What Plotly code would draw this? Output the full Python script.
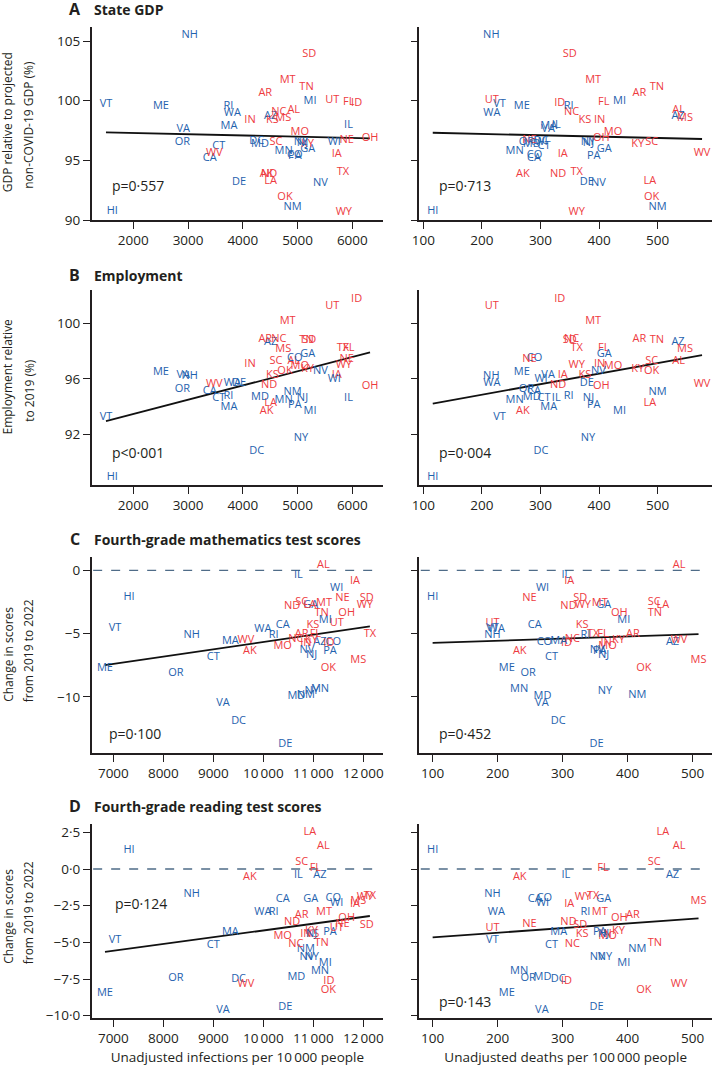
import numpy as np
import plotly.graph_objects as go

# ---------------- data ----------------
states = ["AL","AK","AZ","AR","CA","CO","CT","DE","DC","FL","GA","HI","ID","IL","IN","IA","KS",
          "KY","LA","ME","MD","MA","MI","MN","MS","MO","MT","NE","NV","NH","NJ","NM","NY","NC",
          "ND","OH","OK","OR","PA","RI","SC","SD","TN","TX","UT","VT","VA","WA","WV","WI","WY"]
party = ["R","R","D","R","D","D","D","D","D","R","D","D","R","D","R","R","R",
         "R","R","D","D","D","D","D","R","R","R","R","D","D","D","D","D","R",
         "R","R","R","D","D","D","R","R","R","R","R","D","D","D","R","D","R"]

# x for panels A and B
infections_ab = [4930,4435,4508,4410,3395,4950,3562,3930,4253,5935,5187,1616,6079,5930,4131,5714,4540,
                 5180,4508,2505,4314,3747,5227,4746,4740,5040,4819,5897,5418,3030,5090,4910,5060,4660,
                 4480,6323,4770,2895,4950,3738,4606,5215,5163,5830,5635,1501,2913,3808,3479,5671,5845]
deaths_ab = [536,270,535,469,289,290,306,379,301,408,409,116,333,327,401,338,376,
             466,487,268,285,314,435,256,547,424,390,281,399,216,382,500,381,353,
             330,404,490,276,391,348,490,350,499,362,217,230,313,217,576,301,362]
gdp = [99.19,93.85,98.72,100.59,95.14,95.40,96.20,93.15,96.60,99.85,95.93,90.73,99.75,97.96,98.32,95.50,98.32,
       96.38,93.25,99.53,96.34,97.85,99.92,95.78,98.50,97.33,101.70,96.68,93.10,105.50,96.42,91.10,96.55,99.03,
       93.83,96.82,91.87,96.54,95.30,99.55,96.50,103.85,101.09,94.02,100.00,99.72,97.57,98.91,95.56,96.54,90.61]
employment = [97.25,93.64,98.63,98.89,95.10,97.52,94.60,95.69,90.75,98.20,97.81,88.90,101.78,94.60,97.10,96.24,96.24,
              96.67,94.24,96.48,94.67,93.93,93.69,94.43,98.14,96.89,100.19,97.45,96.57,96.17,94.60,95.01,91.71,98.89,
              95.52,95.47,96.53,95.25,94.12,94.72,97.25,98.77,98.77,98.22,101.23,93.20,96.24,95.66,95.61,96.00,97.01]

# x for panels C and D
infections_cd = [11200,9730,11133,10767,10387,11400,9000,10440,9505,11040,10950,7313,11310,10700,10850,11833,10990,
                 10960,10930,6833,10660,9340,11240,11133,11900,10387,11213,11580,10870,8567,10967,10850,10967,10650,
                 10577,11667,11300,8250,11333,10207,10767,12067,11167,12130,11470,7033,9193,9990,9650,11467,12030]
deaths_cd = [479,234,469,408,257,272,283,352,293,362,363,100,306,305,367,310,330,
             386,454,214,269,294,394,233,509,369,357,249,353,192,363,415,365,315,
             309,387,425,247,357,335,441,327,442,347,192,192,268,198,479,269,331]
math_change = [0.37,-6.41,-5.65,-5.05,-4.37,-5.70,-6.87,-13.72,-11.95,-5.01,-2.75,-2.11,-5.72,-0.37,-5.78,-0.87,-4.34,
               -5.50,-2.75,-7.73,-9.97,-5.62,-3.93,-9.38,-7.12,-6.02,-2.56,-2.19,-6.28,-5.15,-6.72,-9.84,-9.58,-5.43,
               -2.85,-3.38,-7.73,-8.13,-6.41,-5.12,-2.53,-2.23,-3.35,-5.01,-4.20,-4.60,-10.52,-4.62,-5.52,-1.40,-2.72]
reading_change = [1.57,-0.59,-0.41,-3.12,-2.09,-2.00,-5.23,-9.43,-7.52,0.02,-2.06,1.25,-7.64,-0.41,-4.45,-2.40,-4.47,
                  -4.23,2.48,-8.45,-7.40,-4.33,-6.45,-6.95,-2.18,-4.61,-2.95,-3.80,-6.00,-1.73,-4.45,-5.47,-6.05,-5.16,
                  -3.66,-3.38,-8.30,-7.45,-4.32,-2.93,0.43,-3.86,-5.09,-1.89,-4.03,-4.89,-9.61,-2.96,-7.86,-2.30,-1.92]

panel_letters = ["A", "B", "C", "D"]
panel_titles = ["State GDP", "Employment", "Fourth-grade mathematics test scores",
                "Fourth-grade reading test scores"]
y_titles = [["GDP relative to projected", "non-COVID-19 GDP (%)"],
            ["Employment relative", "to 2019 (%)"],
            ["Change in scores", "from 2019 to 2022"],
            ["Change in scores", "from 2019 to 2022"]]
p_left = ["p=0·557", "p<0·001", "p=0·100", "p=0·124"]
p_right = ["p=0·713", "p=0·004", "p=0·452", "p=0·143"]
x_titles = ["Unadjusted infections per 10\u2009000 people", "Unadjusted deaths per 100\u2009000 people"]

xticks_ab_left = [2000, 3000, 4000, 5000, 6000]
xticklabels_ab_left = ["2000", "3000", "4000", "5000", "6000"]
xticks_cd_left = [7000, 8000, 9000, 10000, 11000, 12000]
xticklabels_cd_left = ["7000", "8000", "9000", "10\u2009000", "11\u2009000", "12\u2009000"]
xticks_right = [100, 200, 300, 400, 500]
xticklabels_right = ["100", "200", "300", "400", "500"]
yticks = [[90, 95, 100, 105], [92, 96, 100], [-10, -5, 0], [2.5, 0, -2.5, -5, -7.5, -10]]
yticklabels = [["90", "95", "100", "105"], ["92", "96", "100"], ["−10", "−5", "0"],
               ["2·5", "0·0", "−2·5", "−5·0", "−7·5", "−10·0"]]

# ---------------- layout geometry ----------------
W, H = 712, 1066
FONT = "Open Sans"
INK = "#231f20"
RED = "#EE3B3F"
BLUE = "#1F62AE"
XL = (91.7, 383.0)
XR = (419.3, 712.0)
ROWS = [(26.7, 220.0), (290.0, 485.0), (557.0, 752.7), (824.0, 1018.3)]
TITLE_Y = [9.0, 274.5, 538.5, 806.0]
YT_CENTERS = [[122.5, 125.0], [376.7, 390.0], [654.0, 650.5], [916.0, 912.5]]
x_ranges = [[(1240, 6560), (93, 593)], [(1240, 6560), (93, 593)],
            [(6567, 12393), (79.5, 529.7)], [(6567, 12393), (79.5, 529.7)]]
y_ranges = [(90, 106.2), (88.34, 102.43), (-14.41, 1.06), (-10.18, 3.07)]
p_pos = [[(0.063, 0.18), (0.062, 0.18)], [(0.063, 0.166), (0.062, 0.166)],
         [(0.051, 0.099), (0.062, 0.099)], [(0.074, 0.59), (0.062, 0.089)]]

outcomes = [gdp, employment, math_change, reading_change]
xs_by_row = [[infections_ab, deaths_ab], [infections_ab, deaths_ab],
             [infections_cd, deaths_cd], [infections_cd, deaths_cd]]
colors = [RED if p == "R" else BLUE for p in party]

fig = go.Figure()
layout = dict(width=W, height=H, margin=dict(l=0, r=0, t=0, b=0, pad=0, autoexpand=False),
              paper_bgcolor="white", plot_bgcolor="white", showlegend=False,
              font=dict(family=FONT, color=INK))
annotations = []
shapes = []

def fx(p):
    return p / W

def fy(p):
    return 1 - p / H

for r in range(4):
    y = np.array(outcomes[r], dtype=float)
    for s in range(2):
        n = 2 * r + s + 1
        xa = "x" if n == 1 else f"x{n}"
        ya = "y" if n == 1 else f"y{n}"
        x = np.array(xs_by_row[r][s], dtype=float)
        dom = XL if s == 0 else XR
        top, bot = ROWS[r]
        if s == 0:
            tv = xticks_ab_left if r < 2 else xticks_cd_left
            tt = xticklabels_ab_left if r < 2 else xticklabels_cd_left
        else:
            tv, tt = xticks_right, xticklabels_right
        layout["xaxis" if n == 1 else f"xaxis{n}"] = dict(
            domain=[fx(dom[0]), min(1.0, fx(dom[1]))], anchor=ya, range=list(x_ranges[r][s]),
            automargin=False,
            showgrid=False, zeroline=False, showline=True, linecolor=INK, linewidth=1.6,
            ticks="outside", ticklen=7, tickwidth=1.4, tickcolor=INK,
            tickvals=tv, ticktext=tt, tickfont=dict(size=13.5, family=FONT, color=INK),
            title=dict(text=x_titles[s] if r == 3 else "", font=dict(size=13.5, family=FONT, color=INK),
                       standoff=6))
        layout["yaxis" if n == 1 else f"yaxis{n}"] = dict(
            domain=[fy(bot), fy(top)], anchor=xa, range=list(y_ranges[r]),
            automargin=False,
            showgrid=False, zeroline=False, showline=True, linecolor=INK, linewidth=1.6,
            ticks="outside", ticklen=7, tickwidth=1.4, tickcolor=INK,
            tickvals=yticks[r], ticktext=yticklabels[r] if s == 0 else [""] * len(yticks[r]),
            showticklabels=(s == 0), tickfont=dict(size=13.5, family=FONT, color=INK))

        if r >= 2:
            shapes.append(dict(type="line", xref=f"{xa} domain", yref=ya, x0=0.005, x1=0.97,
                               y0=0, y1=0, line=dict(color="#4f6c88", width=1.3, dash="dash"),
                               layer="below"))

        slope, icpt = np.polyfit(x, y, 1)
        xl = np.array([x.min(), x.max()])
        fig.add_trace(go.Scatter(x=xl, y=slope * xl + icpt, mode="lines", xaxis=xa, yaxis=ya,
                                 line=dict(color="#111111", width=1.8), hoverinfo="skip"))
        fig.add_trace(go.Scatter(x=x, y=y, mode="text", text=states, xaxis=xa, yaxis=ya,
                                 textposition="middle center", cliponaxis=False,
                                 textfont=dict(size=11, family=FONT, color=colors)))
        px_, py_ = p_pos[r][s]
        annotations.append(dict(xref=f"{xa} domain", yref=f"{ya} domain", x=px_, y=py_,
                                xanchor="left", yanchor="middle", showarrow=False,
                                text=(p_left if s == 0 else p_right)[r],
                                font=dict(size=14, family=FONT, color=INK)))

    # panel title
    annotations.append(dict(xref="paper", yref="paper", x=fx(74.5), y=fy(TITLE_Y[r]),
                            xanchor="center", yanchor="middle", showarrow=False,
                            text=f"<b>{panel_letters[r]}</b>", font=dict(size=16, family=FONT, color=INK)))
    annotations.append(dict(xref="paper", yref="paper", x=fx(91.5), y=fy(TITLE_Y[r] + 0.5),
                            xanchor="left", yanchor="middle", showarrow=False,
                            text=f"<b>{panel_titles[r]}</b>", font=dict(size=14, family=FONT, color=INK)))
    # y-axis title (two lines)
    for k, (xc, line) in enumerate(zip([7.8, 28.8], y_titles[r])):
        annotations.append(dict(xref="paper", yref="paper", x=fx(xc), y=fy(YT_CENTERS[r][k]),
                                xanchor="center", yanchor="middle", showarrow=False, textangle=-90,
                                text=line, font=dict(size=12, family=FONT, color=INK)))

layout["annotations"] = annotations
layout["shapes"] = shapes
fig.update_layout(**layout)
fig.write_html("out.html", config={"displayModeBar": False},
               post_script="document.body.style.margin='0';document.body.style.overflow='hidden';")
